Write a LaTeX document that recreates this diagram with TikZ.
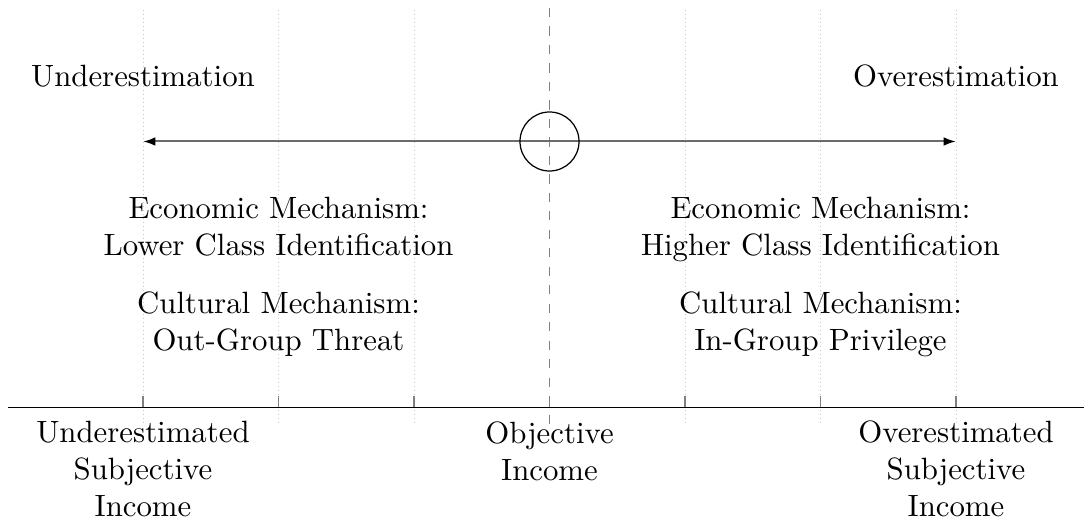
\documentclass[tikz,border=0pt]{standalone}
\usepackage{amsmath}
\usepackage{amssymb}
\usepackage{color}
\usepackage{tikz}
\usetikzlibrary{arrows.meta}

\tikzset{
  gridline/.style={gray!45, densely dotted, line width=0.3pt},
  centerline/.style={gray, dashed, line width=0.3pt},
  ticks/.style={gray, line width=0.4pt},
  lbl/.style={anchor=base, inner sep=0pt, align=center},
  block/.style={anchor=north, inner sep=0pt, align=center}
}

\begin{document}
\begin{tikzpicture}[x=0.3247pt,y=0.3247pt,yscale=-1,xscale=1]
    \useasboundingbox (0,0) rectangle (1084,524);
    % background grid
    \foreach \gx in {143,278.5,414,685,820.5,956} {
        \draw [gridline] (\gx,10) -- (\gx,424) ;
    }
    \draw [centerline] (549.5,8) -- (549.5,424) ;
    % axis and ticks
    \foreach \gx in {143,278.5,414,549.5,685,820.5,956} {
        \draw [ticks] (\gx,396) -- (\gx,407.5) ;
    }
    \draw [line width=0.45pt] (8,407.5) -- (1084,407.5) ;
    % scale arrow with centre circle
    \coordinate (lowend) at (143,141.5) ;
    \coordinate (highend) at (956,141.5) ;
    \draw [gray!85!black, line width=0.65pt, {Latex[black,length=4pt,width=2.8pt]}-{Latex[black,length=4pt,width=2.8pt]}] (lowend) -- (highend) ;
    \node (zero) [draw, circle, line width=0.4pt, minimum size=19.16pt, inner sep=0pt] at (549.5,141.5) {} ;
    % top labels
    \node (under) [lbl] at (143,87) {Underestimation} ;
    \node (over) [lbl] at (956,87) {Overestimation} ;
    % mechanisms
    \node (econlow) [block] at (278.5,196.6) {Economic Mechanism:\\Lower Class Identification} ;
    \node (cultlow) [block] at (278.5,291.6) {Cultural Mechanism:\\Out-Group Threat} ;
    \node (econhigh) [block] at (820.5,196.6) {Economic Mechanism:\\Higher Class Identification} ;
    \node (culthigh) [block] at (820.5,291.6) {Cultural Mechanism:\\In-Group Privilege} ;
    % axis labels
    \node (subjlow) [block] at (143,420.6) {Underestimated\\Subjective\\Income} ;
    \node (objective) [block] at (549.5,421.6) {Objective\\Income} ;
    \node (subjhigh) [block] at (956,420.6) {Overestimated\\Subjective\\Income} ;
\end{tikzpicture}
\end{document}
